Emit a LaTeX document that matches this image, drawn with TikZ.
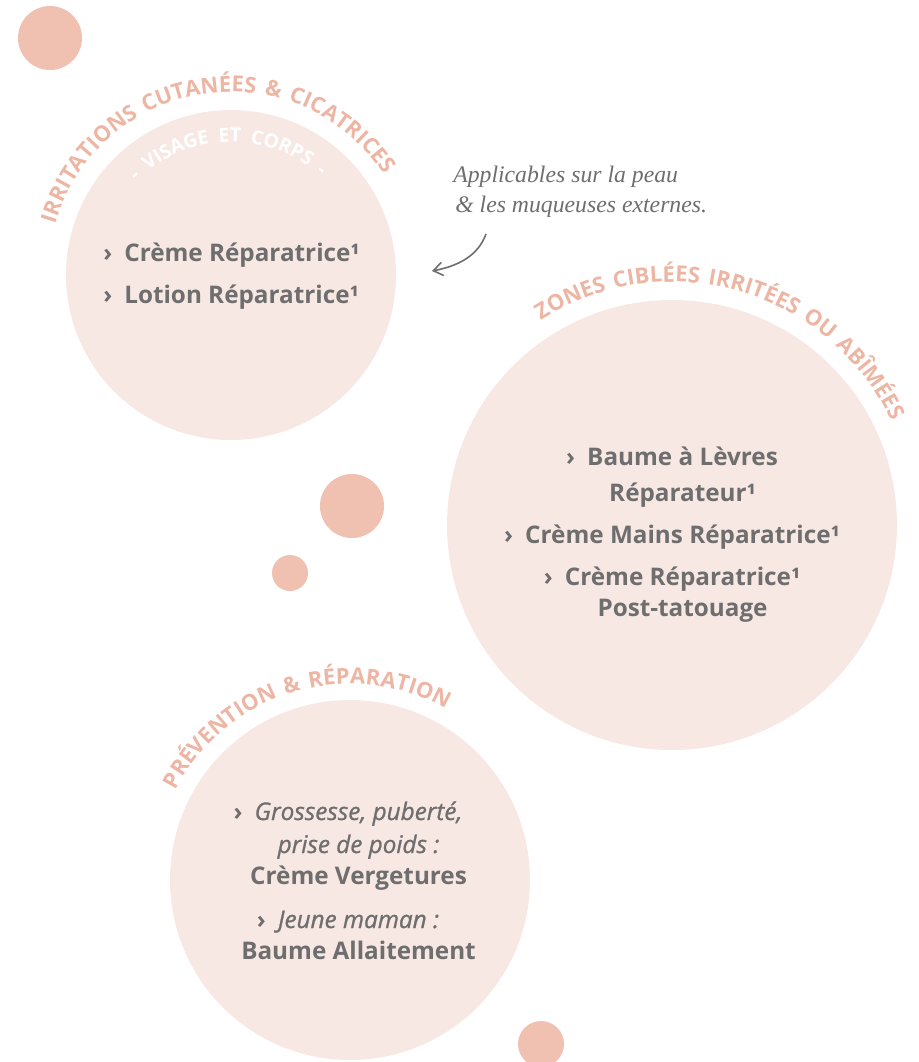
\documentclass[tikz,border=0pt]{standalone}
\usepackage{fontspec}
\setmainfont{Open Sans}
\newfontfamily\arcfont[LetterSpace=12]{Open Sans}
\newfontfamily\subarcfont[LetterSpace=26]{Open Sans}
\newfontfamily\semiital[FakeBold=1]{Open Sans}
\newfontfamily\notefont{Liberation Serif}
\usepackage{tikz}
\usetikzlibrary{decorations.text}
\usetikzlibrary{arrows.meta}
\definecolor{blush}{RGB}{248,232,228}
\definecolor{dotpink}{RGB}{240,192,177}
\definecolor{arcpink}{RGB}{237,181,163}
\definecolor{ink}{RGB}{110,110,110}
\newcommand{\chev}{›\hspace{0.5em}}
\newcommand{\indnt}{\hphantom{\chev}}
\newcommand{\soft}[1]{{\semiital\mdseries\itshape #1}}
\newcommand{\wsp}{\hspace{7pt}}

\begin{document}
\begin{tikzpicture}[x=0.75pt,y=-0.75pt,
    blob/.style={fill=blush},
    bubble/.style={fill=dotpink},
    item/.style={anchor=base,inner sep=0pt,text=ink,font=\fontsize{18.2}{22}\selectfont\bfseries},
    note/.style={anchor=base west,inner sep=0pt,text=ink,font=\notefont\itshape\fontsize{17.8}{20}\selectfont},
    arctitle/.style={decorate,decoration={text along path,text align=center,text color=arcpink}},
    subtitle/.style={decorate,decoration={text along path,text align=center,text color=white}}]
  \useasboundingbox (0,0) rectangle (919,1062);
  \clip (0,0) rectangle (919,1062);
  %% centres
  \coordinate (irrit) at (231,275);
  \coordinate (zones) at (672,525);
  \coordinate (prev) at (350,880);
  %% big circles
  \fill[blob] (irrit) circle[radius=165];
  \fill[blob] (zones) circle[radius=225];
  \fill[blob] (prev) circle[radius=180];
  %% little dots
  \fill[bubble] (50,38) circle[radius=32];
  \fill[bubble] (352,506) circle[radius=32];
  \fill[bubble] (290,573) circle[radius=18];
  \fill[bubble] (541,1044) circle[radius=23];
  %% curved titles
  \path[arctitle,decoration={text={|\arcfont\bfseries\fontsize{16.5}{16.5}\selectfont|IRRITATIONS CUTANÉES {\&} CICATRICES}}]
    (irrit) ++(-188.5:183) arc[start angle=-188.5,end angle=-8.5,radius=183];
  \path[subtitle,decoration={text={|\subarcfont\bfseries\fontsize{14.5}{14.5}\selectfont|-{\wsp}VISAGE{\wsp}ET{\wsp}CORPS{\wsp}-}}]
    (irrit) ++(-181.5:133) arc[start angle=-181.5,end angle=-1.5,radius=133];
  \path[arctitle,decoration={text={|\arcfont\bfseries\fontsize{16.5}{16.5}\selectfont|ZONES CIBLÉES IRRITÉES OU ABÎMÉES}}]
    (zones) ++(-164:243) arc[start angle=-164,end angle=16,radius=243];
  \path[arctitle,decoration={text={|\arcfont\bfseries\fontsize{16.5}{16.5}\selectfont|PRÉVENTION {\&} RÉPARATION}}]
    (prev) ++(-196.7:196) arc[start angle=-196.7,end angle=-16.7,radius=196];
  %% first circle
  \node[item,anchor=base west] (creme) at (103,262) {\chev Crème Réparatrice¹};
  \node[item,anchor=base west] (lotion) at (103,303) {\chev Lotion Réparatrice¹};
  %% second circle
  \node[item] (baume) at (672,465) {\chev Baume à Lèvres};
  \node[item] (baume2) at (672,501) {\indnt Réparateur¹};
  \node[item] (mains) at (672,543) {\chev Crème Mains Réparatrice¹};
  \node[item] (tatou) at (672,585) {\chev Crème Réparatrice¹};
  \node[item] (tatou2) at (672,616) {\indnt Post-tatouage};
  %% third circle
  \node[item] (gross) at (348,820) {\chev\soft{Grossesse, puberté,}};
  \node[item] (gross2) at (348,853) {\indnt\soft{prise de poids :}};
  \node[item] (verg) at (348,884) {\indnt Crème Vergetures};
  \node[item] (maman) at (348,928) {\chev\soft{Jeune maman :}};
  \node[item] (allait) at (348,959) {\indnt Baume Allaitement};
  %% note and arrow
  \node[note] (note1) at (453,183) {Applicables sur la peau};
  \node[note] (note2) at (455,213) {\& les muqueuses externes.};
  \coordinate (notetail) at (486,234);
  \coordinate (notetip) at (432,271);
  \draw[ink,line width=1.2pt,-{Straight Barb[length=7pt,width=10pt]}] (notetail) .. controls (478,256) and (458,266) .. (notetip);
\end{tikzpicture}
\end{document}
